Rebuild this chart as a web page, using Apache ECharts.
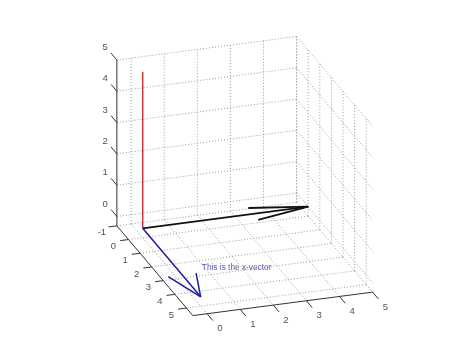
<!DOCTYPE html>
<html>
<head>
<meta charset="utf-8">
<script src="https://cdn.jsdelivr.net/npm/echarts@6/dist/echarts.min.js"></script>
<style>html,body{margin:0;padding:0;background:#fff}#c{width:474px;height:355px}</style>
</head>
<body>
<div id="c"></div>
<script>
// ---- data ----
const xTicks = [-1, 0, 1, 2, 3, 4, 5];
const yTicks = [0, 1, 2, 3, 4, 5];
const zTicks = [0, 1, 2, 3, 4, 5];
const xLimits = [-1, 5.55];
const yLimits = [-0.43, 5];
const zLimits = [-0.3, 5];
const origin = [0, 0, 0];
const xVectorTip = [5, 0, 0];
const xVectorHead = [[3.4, -0.42, 0], [3.4, 0.42, 0]];
const yVectorTip = [0, 5, 0];
const yVectorHead = [[-0.43, 3.34, 0], [0.43, 3.34, 0]];
const zVectorTip = [0, 0, 5];
const annotationText = 'This is the x-vector';
const annotationPos = [3.1, 0.7, 0];

// ---- view (orthographic projection of the 3D axes onto the page plane) ----
const view = { ex: [11.6, -13.7], ey: [33.1, 4.32], ez: [0, 31.3] };
function proj(p) {
  return [view.ex[0] * p[0] + view.ey[0] * p[1] + view.ez[0] * p[2],
          view.ex[1] * p[0] + view.ey[1] * p[1] + view.ez[1] * p[2]];
}
const [x0, x1] = xLimits, [y0, y1] = yLimits, [z0, z1] = zLimits;

// grid lines on the three back planes
const gridSegs = [];
xTicks.forEach(t => { gridSegs.push([[t, y0, z0], [t, y1, z0]]); gridSegs.push([[t, y1, z0], [t, y1, z1]]); });
yTicks.forEach(t => { gridSegs.push([[x0, t, z0], [x1, t, z0]]); gridSegs.push([[x0, t, z0], [x0, t, z1]]); });
zTicks.forEach(t => { gridSegs.push([[x0, y0, t], [x0, y1, t]]); gridSegs.push([[x0, y1, t], [x1, y1, t]]); });

// axis lines + tick marks
const axisSegs = [
  [[x0, y0, z0], [x0, y0, z1]],
  [[x0, y0, z0], [x1, y0, z0]],
  [[x1, y0, z0], [x1, y1, z0]]
];
xTicks.forEach(t => axisSegs.push([[t, y0, z0], [t, y0 - 0.25, z0]]));
yTicks.forEach(t => axisSegs.push([[x1, t, z0], [x1 + 0.5, t, z0]]));
zTicks.forEach(t => axisSegs.push([[x0, y0, t], [x0 - 0.5, y0, t]]));

const toLines = segs => segs.map(s => ({ coords: s.map(proj) }));

function lineSeries(segs, color, width, type, z) {
  return {
    type: 'lines', coordinateSystem: 'cartesian2d', polyline: true, silent: true, z: z,
    data: toLines(segs),
    lineStyle: { color: color, width: width, type: type, opacity: 1 }
  };
}
function labelSeries(items, offset, fontSize, color, align) {
  return {
    type: 'scatter', symbolSize: 0, silent: true, z: 10,
    data: items.map(it => ({ value: proj(it.p), name: it.t })),
    label: { show: true, position: 'inside', formatter: '{b}', offset: offset,
      fontFamily: 'Liberation Sans, Arial, sans-serif', fontSize: fontSize, color: color,
      align: align || 'center', verticalAlign: 'middle' }
  };
}
const arrow = (tip, head) => [[origin, tip], [head[0], tip], [head[1], tip]];

const chart = echarts.init(document.getElementById('c'), null, { renderer: 'canvas' });
chart.setOption({
  animation: false,
  backgroundColor: '#fff',
  grid: { left: 0, right: 0, top: 0, bottom: 0 },
  xAxis: { type: 'value', min: -142.7, max: 331.3, show: false },
  yAxis: { type: 'value', min: -126.7, max: 228.3, show: false },
  series: [
    lineSeries(gridSegs, '#9c9c9c', 1, [1, 2], 1),
    lineSeries(axisSegs, '#333', 1, 'solid', 2),
    lineSeries([[origin, zVectorTip]], '#cc3b3b', 1.5, 'solid', 3),
    lineSeries(arrow(yVectorTip, yVectorHead), '#111', 1.8, 'solid', 3),
    lineSeries(arrow(xVectorTip, xVectorHead), '#1c1ca0', 1.5, 'solid', 4),
    labelSeries(xTicks.map(t => ({ p: [t, y0, z0], t: String(t) })), [-15, 7], 9.5, '#222'),
    labelSeries(yTicks.map(t => ({ p: [x1, t, z0], t: String(t) })), [12.7, 15], 9.5, '#222'),
    labelSeries(zTicks.map(t => ({ p: [x0, y0, t], t: String(t) })), [-11.7, -12.5], 9.5, '#222'),
    labelSeries([{ p: annotationPos, t: annotationText }], [0, 0], 8.3, '#2a2ab0', 'left')
  ]
});
</script>
</body>
</html>
